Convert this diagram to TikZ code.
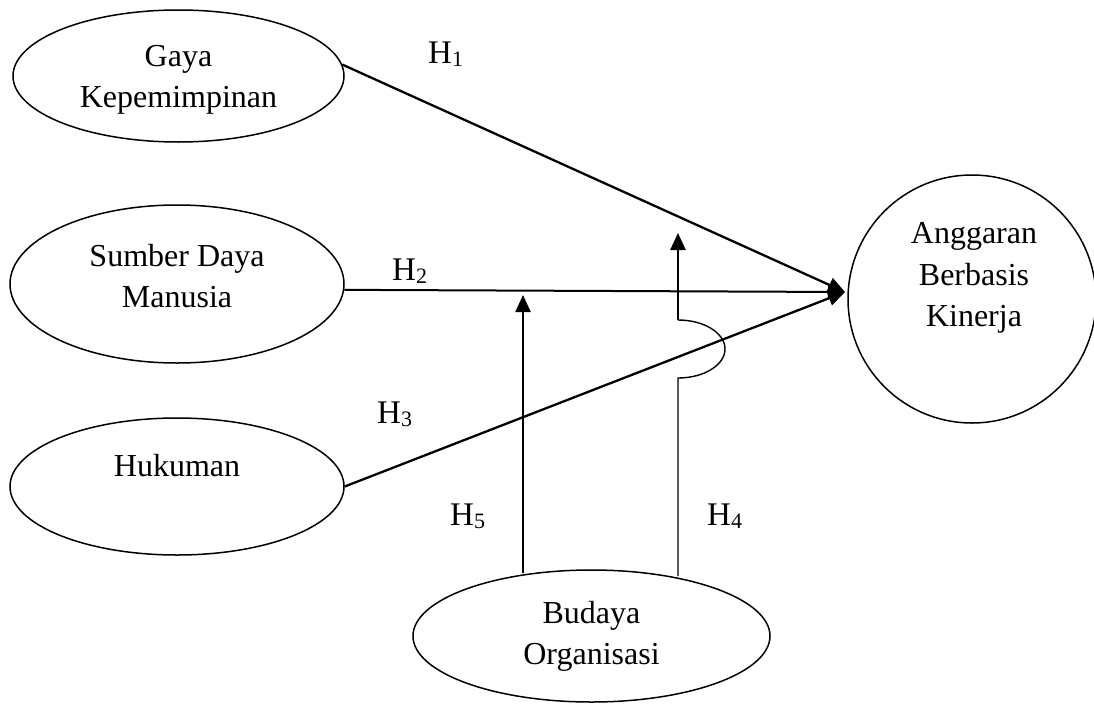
\documentclass[tikz,border=0pt]{standalone}
\usepackage{fontspec}
\setmainfont{Liberation Serif}
\usetikzlibrary{shapes.geometric,arrows.meta}
\newcommand\hyplab[1]{H\raisebox{-3pt}{\fontsize{22}{22}\selectfont #1}}
\begin{document}
\begin{tikzpicture}[x=1pt,y=-1pt,
  oval/.style={draw, ellipse, line width=1.5pt, inner sep=0pt},
  roundbox/.style={draw, circle, line width=1.5pt, inner sep=0pt},
  lbl/.style={font=\fontsize{32}{41.5}\selectfont, align=center, inner sep=0pt},
  hyp/.style={font=\fontsize{33}{40}\selectfont, inner sep=0pt, anchor=base west},
  link/.style={line width=2.3pt, -{Triangle[length=17pt,width=15pt]}},
  thinlink/.style={line width=1.4pt},
]
\useasboundingbox (0,0) rectangle (1094,704);

% shapes
\node[oval, minimum width=331pt, minimum height=132pt] (gaya) at (178.5,76) {};
\node[oval, minimum width=334pt, minimum height=158pt] (sdm) at (177,284) {};
\node[oval, minimum width=334pt, minimum height=137pt] (huk) at (177,486.5) {};
\node[oval, minimum width=357pt, minimum height=132pt] (bud) at (591.5,636) {};
\node[roundbox, minimum size=248pt] (abk) at (972,299) {};

% texts
\node[lbl] (gayat) at (178.5,80) {Gaya\\Kepemimpinan};
\node[lbl] (sdmt) at (177,276) {Sumber Daya\\Manusia};
\node[lbl] (hukt) at (177,466) {Hukuman};
\node[lbl] (budt) at (591.5,636.5) {Budaya\\Organisasi};
\node[lbl] (abkt) at (974,278) {Anggaran\\Berbasis\\Kinerja};

% hypothesis labels
\node[hyp] (h1) at (428,63) {\hyplab{1}};
\node[hyp] (h2) at (392,280) {\hyplab{2}};
\node[hyp] (h3) at (377,423) {\hyplab{3}};
\node[hyp] (h5) at (450,525) {\hyplab{5}};
\node[hyp] (h4) at (707,525) {\hyplab{4}};

% connectors
\coordinate (tip) at (845,292);
\draw[link] (gaya.4) -- (tip);
\draw[link, line width=2pt] (sdm.-2) -- (tip);
\draw[link] (huk.east) -- (tip);

\coordinate (h5a) at (523,573);
\coordinate (h5b) at (523,295);
\draw[link, line width=2.2pt] (h5a) -- (h5b);

\coordinate (h4a) at (678,576);
\coordinate (h4b) at (678,378);
\coordinate (h4c) at (678,320);
\coordinate (h4d) at (678,233);
\draw[thinlink] (h4a) -- (h4b) arc[start angle=90, end angle=-90, x radius=47, y radius=29];
\draw[link, line width=2.6pt] (h4c) -- (h4d);
\end{tikzpicture}
\end{document}
